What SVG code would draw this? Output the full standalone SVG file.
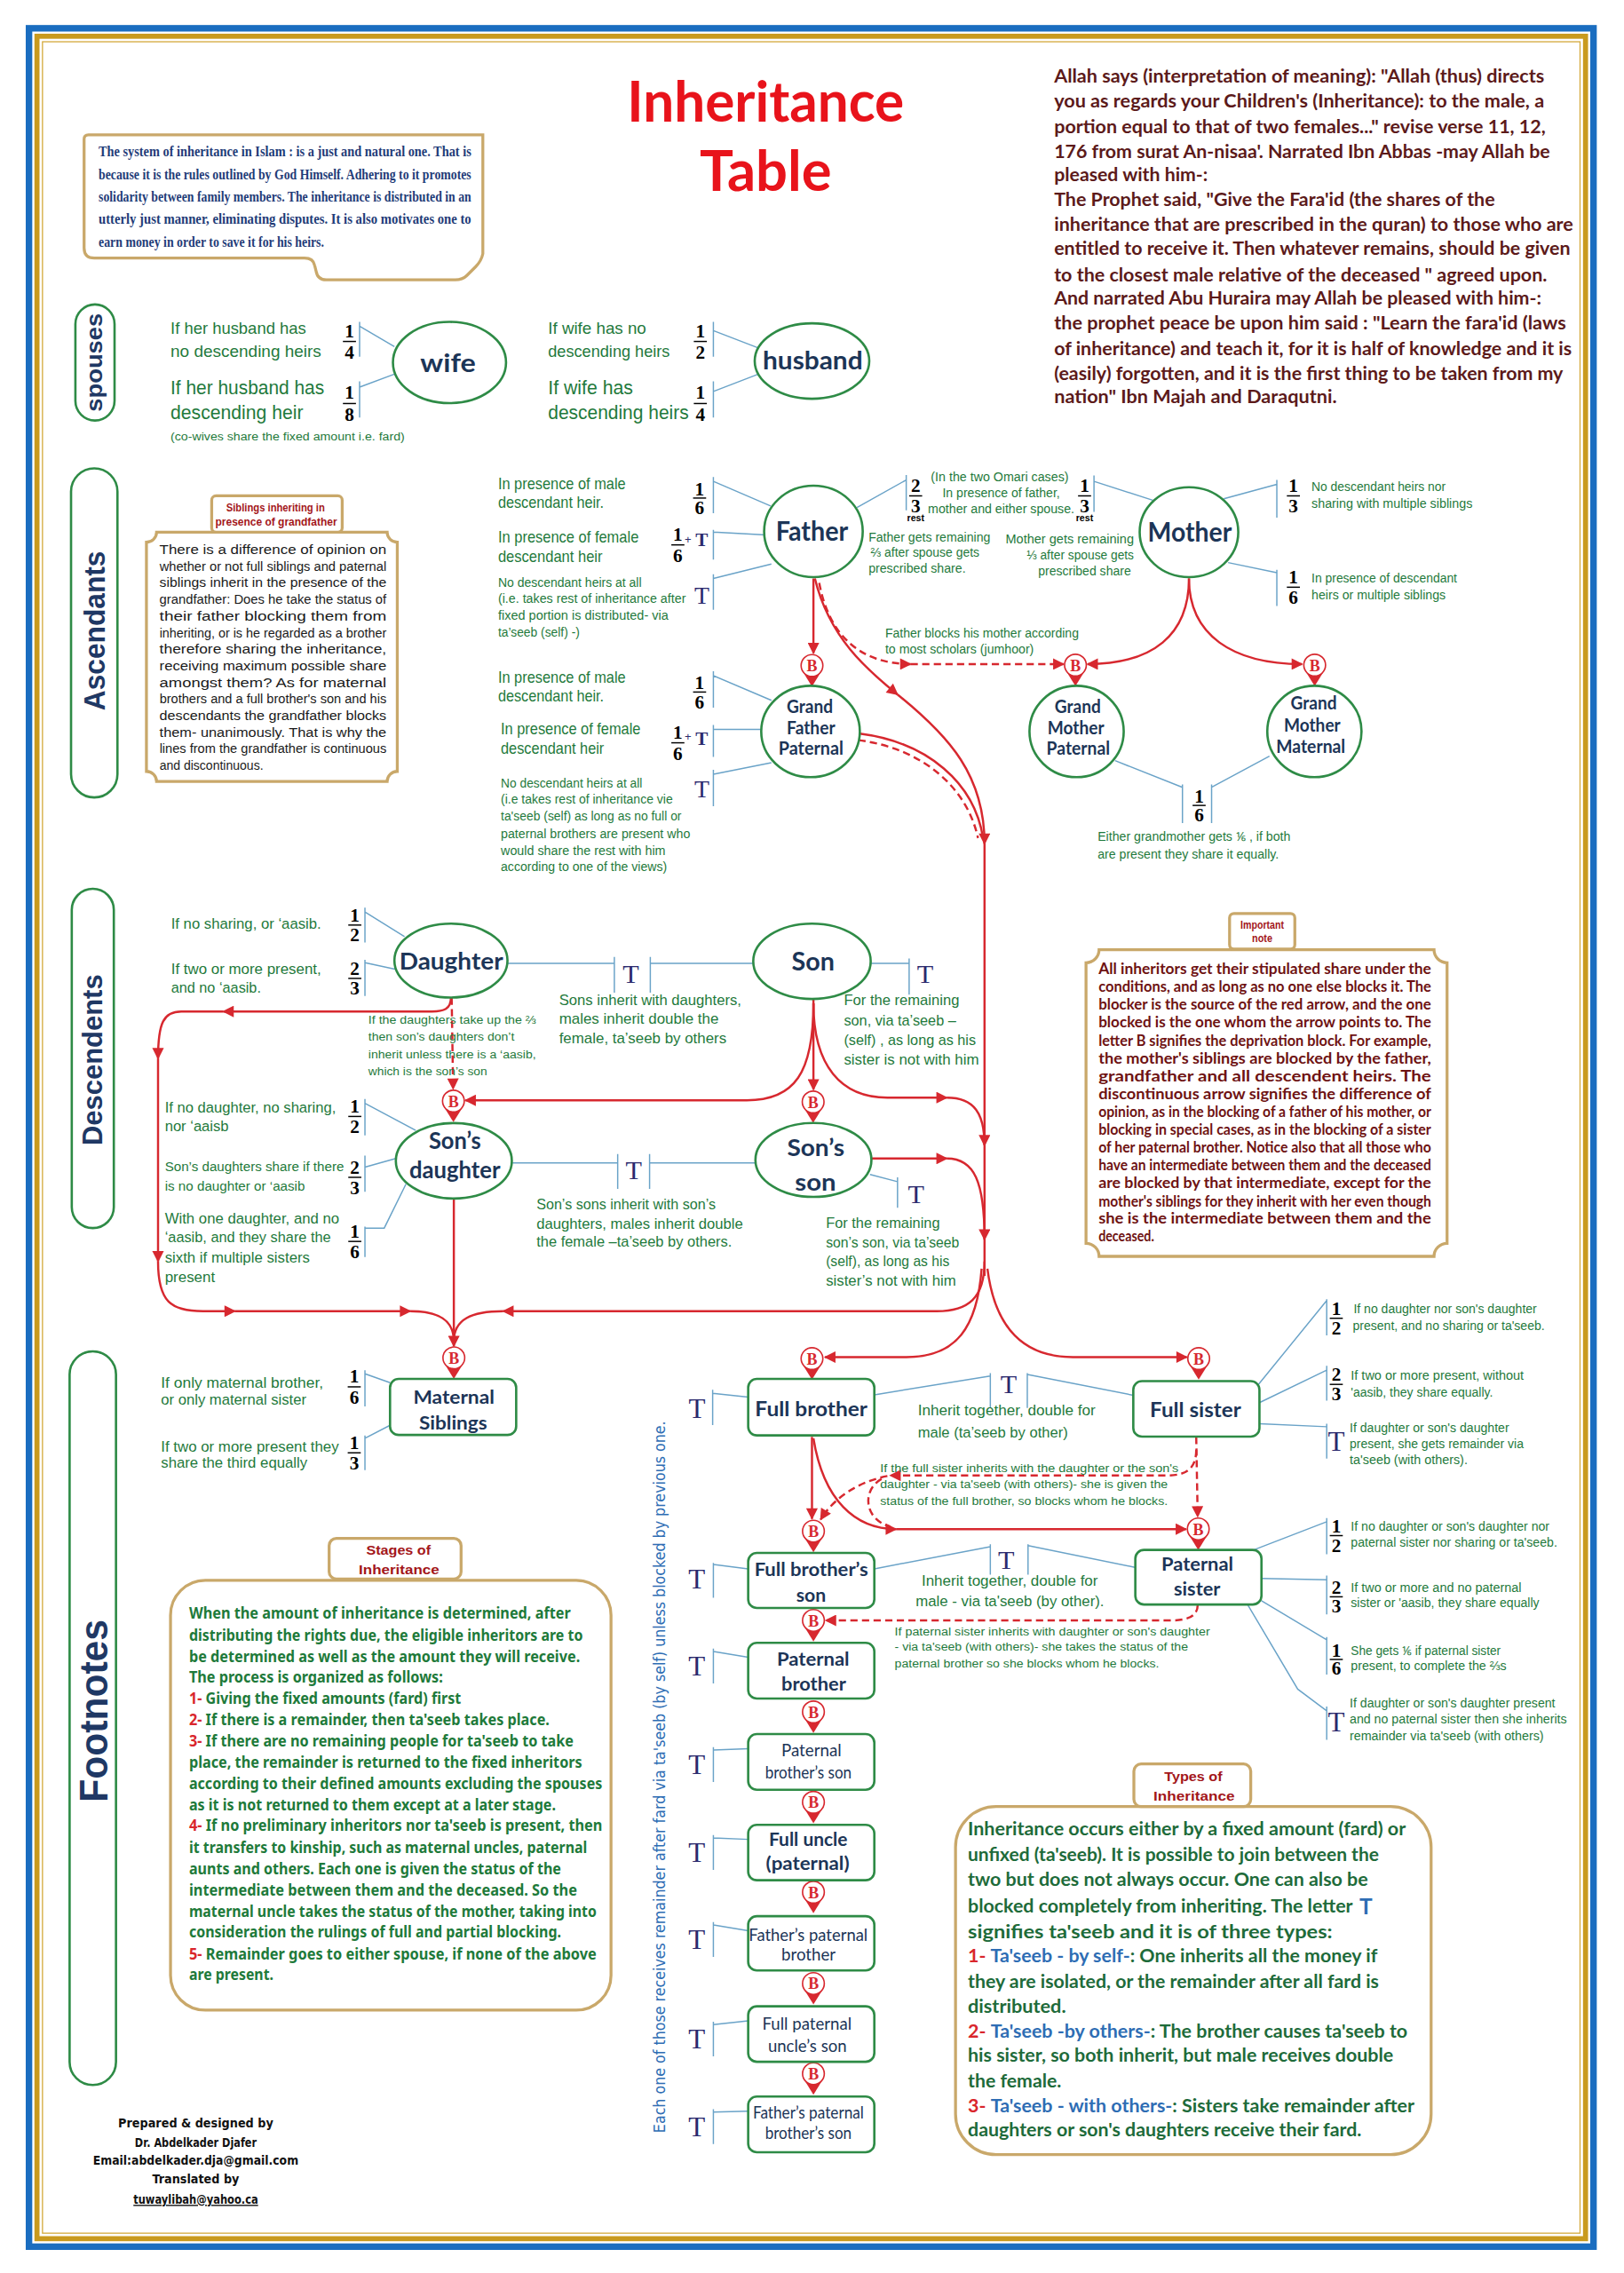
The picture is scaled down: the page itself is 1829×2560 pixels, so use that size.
<svg xmlns="http://www.w3.org/2000/svg" width="1829" height="2560" viewBox="0 0 1829 2560">
<defs>
<style>
.gn{font-family:'Liberation Sans Narrow','Liberation Sans',Arial,sans-serif;fill:#1f7a3c}
.nd{font-family:Lato,'Open Sans',sans-serif;font-weight:bold;fill:#1c3557;text-anchor:middle}
.ndr{font-family:Lato,'Open Sans',sans-serif;font-weight:normal;fill:#1c3557;text-anchor:middle}
.fr{font-family:'Liberation Serif',serif;font-weight:bold;fill:#000;text-anchor:middle;font-size:13px}
.tt{font-family:'Liberation Serif',serif;fill:#2b2a6e;text-anchor:middle}
.bl{stroke:#6aa3c8;stroke-width:0.9;fill:none}
.fb{stroke:#000;stroke-width:0.9}
.rd{stroke:#d7282f;stroke-width:1.5;fill:none}
.ra{stroke:#d7282f;stroke-width:1.5;fill:none;marker-end:url(#ah)}
.dsh{stroke-dasharray:5 3}
.el{fill:#fff;stroke:#2e8b46;stroke-width:1.6}
.bx{fill:#fff;stroke:#c9a86a;stroke-width:2}
.tab{font-family:'Liberation Sans',Arial,sans-serif;font-weight:bold;fill:#a3161a;text-anchor:middle}
.sec{font-family:'Liberation Sans',Arial,sans-serif;font-weight:bold;fill:#1f3864;text-anchor:middle}
.q{font-family:Lato,'Open Sans',sans-serif;font-weight:bold;fill:#5c1a1a;font-size:13px}
.nt{font-family:Lato,'Open Sans',sans-serif;font-weight:bold;fill:#6e1212;font-size:10px}
.st{font-family:'Noto Sans','Open Sans',sans-serif;font-weight:bold;fill:#1e7a3a;font-size:11px}
.ty{font-family:Lato,'Open Sans',sans-serif;font-weight:bold;fill:#1e6b3a;font-size:13px}
.red{fill:#d9262c}
.blu{fill:#2e6db4}
.cr{font-family:'DejaVu Sans',Verdana,sans-serif;font-weight:bold;fill:#111;font-size:8.5px;text-anchor:middle}
</style>
<marker id="ah" viewBox="0 0 10 10" refX="9" refY="5" markerWidth="9" markerHeight="8" markerUnits="userSpaceOnUse" orient="auto"><path d="M0,0 L10,5 L0,10 z" fill="#d7282f"/></marker>
<g id="bm"><path d="M-6.5 4 L6.5 4 L0 14.5 Z" fill="#d7282f"/><circle r="7.5" fill="#fff" stroke="#d7282f" stroke-width="1"/><text y="4" text-anchor="middle" font-family="'Liberation Serif',serif" font-weight="bold" font-size="11" fill="#d7282f">B</text></g>
</defs>
<rect width="1829" height="2560" fill="#fff"/>
<g transform="scale(1.633)">
<!-- frame -->
<g id="frame">
<rect x="20" y="19.5" width="1079" height="1530" fill="none" stroke="#1a6dc0" stroke-width="4.5"/>
<rect x="25.5" y="25" width="1068" height="1519" fill="none" stroke="#c99a1e" stroke-width="3.5"/>
<rect x="29.3" y="28.8" width="1060.4" height="1511.4" fill="none" stroke="#d4aa3c" stroke-width="0.8"/>
</g>

<!-- title -->
<g id="title" font-family="Lato,'Open Sans',sans-serif" font-weight="bold" fill="#e8131b" text-anchor="middle" font-size="39">
<text x="528" y="84" textLength="191" lengthAdjust="spacingAndGlyphs">Inheritance</text>
<text x="528" y="131.5" textLength="91" lengthAdjust="spacingAndGlyphs">Table</text>
</g>

<!-- intro box -->
<g id="intro">
<path class="bx" stroke-width="1.6" d="M61 93 L333 93 L333 175 Q332 180 328 184 L322 190 Q319 193 314 193 L225 193 Q219 193 218 187 L217 183 Q216 178 210 178 L65 178 Q58 178 58 171 L58 96 Q58 93 61 93 Z"/>
<g font-family="'Liberation Serif',serif" font-weight="bold" fill="#1f3c78" font-size="10.5">
<text x="68" y="108" textLength="257" lengthAdjust="spacingAndGlyphs">The system of inheritance in Islam : is a just and natural one. That is</text>
<text x="68" y="123.5" textLength="257" lengthAdjust="spacingAndGlyphs">because it is the rules outlined by God Himself. Adhering to it promotes</text>
<text x="68" y="139" textLength="257" lengthAdjust="spacingAndGlyphs">solidarity between family members. The inheritance is distributed in an</text>
<text x="68" y="154.5" textLength="257" lengthAdjust="spacingAndGlyphs">utterly just manner, eliminating disputes. It is also motivates one to</text>
<text x="68" y="170" textLength="155.5" lengthAdjust="spacingAndGlyphs">earn money in order to save it for his heirs.</text>
</g>
</g>

<!-- quote -->
<g id="quote">
<text class="q" x="727" y="57" textLength="338" lengthAdjust="spacingAndGlyphs">Allah says (interpretation of meaning): "Allah (thus) directs</text>
<text class="q" x="727" y="74" textLength="338" lengthAdjust="spacingAndGlyphs">you as regards your Children's (Inheritance): to the male, a</text>
<text class="q" x="727" y="92" textLength="339" lengthAdjust="spacingAndGlyphs">portion equal to that of two females..." revise verse 11, 12,</text>
<text class="q" x="727" y="109" textLength="342" lengthAdjust="spacingAndGlyphs">176 from surat An-nisaa'. Narrated Ibn Abbas -may Allah be</text>
<text class="q" x="727" y="125" textLength="106" lengthAdjust="spacingAndGlyphs">pleased with him-:</text>
<text class="q" x="727" y="142" textLength="304" lengthAdjust="spacingAndGlyphs">The Prophet said, "Give the Fara'id (the shares of the</text>
<text class="q" x="727" y="159" textLength="358" lengthAdjust="spacingAndGlyphs">inheritance that are prescribed in the quran) to those who are</text>
<text class="q" x="727" y="176" textLength="356" lengthAdjust="spacingAndGlyphs">entitled to receive it. Then whatever remains, should be given</text>
<text class="q" x="727" y="194" textLength="340" lengthAdjust="spacingAndGlyphs">to the closest male relative of the deceased " agreed upon.</text>
<text class="q" x="727" y="210" textLength="336" lengthAdjust="spacingAndGlyphs">And narrated Abu Huraira may Allah be pleased with him-:</text>
<text class="q" x="727" y="227" textLength="353" lengthAdjust="spacingAndGlyphs">the prophet peace be upon him said : "Learn the fara'id (laws</text>
<text class="q" x="727" y="245" textLength="357" lengthAdjust="spacingAndGlyphs">of inheritance) and teach it, for it is half of knowledge and it is</text>
<text class="q" x="727" y="262" textLength="351" lengthAdjust="spacingAndGlyphs">(easily) forgotten, and it is the first thing to be taken from my</text>
<text class="q" x="727" y="278" textLength="195" lengthAdjust="spacingAndGlyphs">nation" Ibn Majah and Daraqutni.</text>
</g>

<!-- section pills -->
<g id="sections" fill="#fff" stroke="#2e8b46" stroke-width="1.6">
<rect x="52" y="210" width="27" height="80" rx="13.5"/>
<rect x="49" y="323" width="32" height="227" rx="16"/>
<rect x="49.5" y="613" width="29" height="234" rx="14.5"/>
<rect x="48" y="932" width="32" height="506" rx="16"/>
</g>
<g id="section-labels">
<text class="sec" font-size="16" transform="translate(70.5,250) rotate(-90)" textLength="68" lengthAdjust="spacingAndGlyphs">spouses</text>
<text class="sec" font-size="20" transform="translate(72.5,435) rotate(-90)" textLength="110" lengthAdjust="spacingAndGlyphs">Ascendants</text>
<text class="sec" font-size="19" transform="translate(70.5,731) rotate(-90)" textLength="118" lengthAdjust="spacingAndGlyphs">Descendents</text>
<text class="sec" font-size="27" transform="translate(74,1180) rotate(-90)" textLength="126" lengthAdjust="spacingAndGlyphs">Footnotes</text>
</g>

<!-- connectors (blue share lines and red blocking arrows) -->
<g id="connectors">
<g class="bl">
<path d="M248 222V246M248 225L272 239M248 263V288M248 267L272 258"/>
<path d="M492 222V246M492 228L523 240M492 263V288M492 270L523 258"/>
<path d="M492 329V354M492 332L531.5 349M492 365.5V386M492 367L528.5 369M492 396V420.5M492 399L532 389"/>
<path d="M492 463V488M492 466L532 483M492 500V522M492 503L528.5 503M492 531V556M492 534L532 526"/>
<path d="M625 327.6V352M625 331L591 350M754.5 328V353M754.5 332L795 345"/>
<path d="M880.6 331V357M880.6 334L844 344M880.6 393V418M880.6 395L847 388"/>
<path d="M815.5 541V567.6M769 524.6L815.5 543M835.6 541V567.6M835.6 543L875.5 521.5"/>
<path d="M251.7 626V650M251.7 629L279 646M251.7 662V687M251.7 664L273 668.5"/>
<path d="M350 664.4H423.7M423.7 660V684.7M448.5 660V684.7M448.5 664.4H519.5"/>
<path d="M600 664.4H627M627 661V686"/>
<path d="M251.7 758V783M251.7 761L286.7 779.6M251.7 797V822M251.7 805L273 799M251.7 846V867M251.7 847H265L280 816.6"/>
<path d="M353 802H426M426 796V820M448 796V820M448 802H521"/>
<path d="M600 810L619 815M619 812V833"/>
<path d="M251.7 945V970M251.7 947.5L269 953.6M251.7 990V1014M251.7 992L269 983"/>
<path d="M491.5 958.5V982.8M491.5 961L516 963.6"/>
<path d="M603 962L683 949M683 947V971M708.5 947V971M708.5 948L781.6 962.3"/>
<path d="M915 896V921M915 897L867.8 955M915 942V966M915 945L868.6 967.4M915 982V1006M915 984L868.6 982"/>
<path d="M492 1078V1102M492 1079L516 1082"/>
<path d="M603 1082L683 1066.7M683 1065V1086M709 1065V1086M709 1066L782.7 1081"/>
<path d="M915 1047V1072M915 1049.5L864.6 1069M915 1086.6V1113.5M915 1089.6L870 1088.6M915 1129V1155M915 1131L870 1104M915 1177V1200M915 1180L895 1165L860.6 1107"/>
<path d="M492 1137V1161M492 1139L516 1143"/>
<path d="M492 1205V1229M492 1207L516 1206"/>
<path d="M492 1265.6V1289.6M492 1267.6L516 1268.6"/>
<path d="M492 1325.6V1349.6M492 1327.6L516 1331.6"/>
<path d="M492 1394.3V1418.3M492 1396.3L516 1393.7"/>
<path d="M492 1454.7V1478.7M492 1456.7L516 1456"/>
</g>

<g id="red-arrows">
<path class="ra" d="M561 399V450.5"/>
<path class="ra" d="M562 399C572 440 598 462 619 479"/>
<path class="ra" d="M619 479C655 508 679 535 679 582"/>
<path class="ra dsh" d="M565 402C572 440 595 458 628 458"/>
<path class="ra dsh" d="M628 458H733.5"/>
<path class="rd" d="M593 506C640 512 672 540 678 578"/>
<path class="rd dsh" d="M592 510.5C636 516 667 543 674.5 578"/>
<path class="ra" d="M820 399C820 438 795 458 750 458"/>
<path class="ra" d="M820 399C820 438 850 458 898 458"/>
<path class="rd" d="M679 575V880"/>
<path class="ra" d="M561 689V751.5"/>
<path class="ra" d="M561 692C561 740 548 758.9 515 758.9H321"/>
<path class="ra" d="M561 692C561 735 580 757 612 757H653"/>
<path class="ra" d="M653 757C672 757 679 768 679 790"/>
<path class="ra" d="M601 799H653"/>
<path class="ra" d="M653 799C672 799 679 815 679 855"/>
<path class="ra dsh" d="M311.5 688L312.5 751"/>
<path class="ra" d="M311 688C311 696 306 697.6 298 697.6H154"/>
<path class="ra" d="M154 697.6H125C113 697.6 109 705 109 730"/>
<path class="ra" d="M109 730V870"/>
<path class="ra" d="M109 870C109 898 118 904.3 140 904.3H162"/>
<path class="ra" d="M162 904.3H283"/>
<path class="rd" d="M283 904.3C302 904.3 313 910 313 925"/>
<path class="ra" d="M313 827V928.5"/>
<path class="ra" d="M679 870C679 895 668 904.3 646 904.3H347"/>
<path class="rd" d="M347 904.3C325 904.3 313 910 313 925"/>
<path class="ra" d="M677 875C674 915 660 936 625 936H569"/>
<path class="ra" d="M681 875C686 915 705 936 740 936H818.5"/>
<path class="ra" d="M560 991V1047.5"/>
<path class="ra" d="M561 992C568 1035 590 1054.6 618 1054.6"/>
<path class="ra" d="M618 1054.6H818"/>
<path class="ra dsh" d="M825 991L826 1046"/>
<path class="ra dsh" d="M825 1000C825 1013 818 1017.6 805 1017.6H614"/>
<path class="ra dsh" d="M612 1018C592 1022 575 1033 566 1048"/>
<path class="rd dsh" d="M608 1020C594 1028 596 1048 614 1053"/>
<path class="ra dsh" d="M826 1107C826 1114 820 1117.6 808 1117.6H569.5"/>
</g>
</g>

<!-- B markers -->
<g id="blocks">
<use href="#bm" x="560" y="459"/>
<use href="#bm" x="741.7" y="458.7"/>
<use href="#bm" x="906.7" y="458.7"/>
<use href="#bm" x="312.7" y="759.4"/>
<use href="#bm" x="560.8" y="760"/>
<use href="#bm" x="313" y="936.5"/>
<use href="#bm" x="560" y="937"/>
<use href="#bm" x="826.7" y="937"/>
<use href="#bm" x="561" y="1056"/>
<use href="#bm" x="826.4" y="1054.5"/>
<use href="#bm" x="561" y="1117.6"/>
<use href="#bm" x="561" y="1180.7"/>
<use href="#bm" x="561" y="1243"/>
<use href="#bm" x="561" y="1305"/>
<use href="#bm" x="561" y="1368"/>
<use href="#bm" x="561" y="1430.2"/>
</g>

<!-- fractions and T marks -->
<g id="fractions">
<text class="fr" x="241" y="232.4">1</text><line class="fb" x1="236.5" y1="235.5" x2="245.5" y2="235.5"/><text class="fr" x="241" y="247.4">4</text>
<text class="fr" x="241" y="275">1</text><line class="fb" x1="236.5" y1="278.3" x2="245.5" y2="278.3"/><text class="fr" x="241" y="290.4">8</text>
<text class="fr" x="483" y="232.4">1</text><line class="fb" x1="478.5" y1="235.5" x2="487.5" y2="235.5"/><text class="fr" x="483" y="247.4">2</text>
<text class="fr" x="483" y="275">1</text><line class="fb" x1="478.5" y1="278.3" x2="487.5" y2="278.3"/><text class="fr" x="483" y="290.4">4</text>
<text class="fr" x="482.5" y="341.4">1</text><line class="fb" x1="478" y1="343.5" x2="487" y2="343.5"/><text class="fr" x="482.5" y="354.4">6</text>
<text class="fr" x="467.5" y="373">1</text><line class="fb" x1="463" y1="375.8" x2="472" y2="375.8"/><text class="fr" x="467.5" y="387.4">6</text>
<text x="474.5" y="374.5" font-family="'Liberation Sans',sans-serif" font-size="8" fill="#2b2a6e" text-anchor="middle">+</text>
<text class="tt" x="484" y="376.5" font-size="13" font-weight="bold">T</text>
<text class="tt" x="484" y="416.5" font-size="17">T</text>
<text class="fr" x="482.5" y="475">1</text><line class="fb" x1="478" y1="477.3" x2="487" y2="477.3"/><text class="fr" x="482.5" y="488.4">6</text>
<text class="fr" x="467.5" y="509.4">1</text><line class="fb" x1="463" y1="512.3" x2="472" y2="512.3"/><text class="fr" x="467.5" y="524.1">6</text>
<text x="474.5" y="511" font-family="'Liberation Sans',sans-serif" font-size="8" fill="#2b2a6e" text-anchor="middle">+</text>
<text class="tt" x="484" y="513.5" font-size="13" font-weight="bold">T</text>
<text class="tt" x="484" y="550" font-size="17">T</text>
<text class="fr" x="631.5" y="339.4">2</text><line class="fb" x1="627" y1="342" x2="636" y2="342"/><text class="fr" x="631.5" y="353.4">3</text>
<text x="631.5" y="359.5" font-family="'Liberation Sans',sans-serif" font-weight="bold" font-size="6.5" text-anchor="middle">rest</text>
<text class="fr" x="748" y="339.4">1</text><line class="fb" x1="743.5" y1="342" x2="752.5" y2="342"/><text class="fr" x="748" y="353.4">3</text>
<text x="748" y="359.5" font-family="'Liberation Sans',sans-serif" font-weight="bold" font-size="6.5" text-anchor="middle">rest</text>
<text class="fr" x="892" y="339.4">1</text><line class="fb" x1="887.5" y1="342" x2="896.5" y2="342"/><text class="fr" x="892" y="353.4">3</text>
<text class="fr" x="892" y="402.4">1</text><line class="fb" x1="887.5" y1="405" x2="896.5" y2="405"/><text class="fr" x="892" y="416.4">6</text>
<text class="fr" x="827" y="553.4">1</text><line class="fb" x1="822.5" y1="555.5" x2="831.5" y2="555.5"/><text class="fr" x="827" y="566.4">6</text>
<text class="fr" x="244.7" y="635.4">1</text><line class="fb" x1="240.2" y1="638" x2="249.2" y2="638"/><text class="fr" x="244.7" y="649.4">2</text>
<text class="fr" x="244.7" y="672.4">2</text><line class="fb" x1="240.2" y1="674.8" x2="249.2" y2="674.8"/><text class="fr" x="244.7" y="686">3</text>
<text class="fr" x="244.7" y="767.4">1</text><line class="fb" x1="240.2" y1="770" x2="249.2" y2="770"/><text class="fr" x="244.7" y="781.4">2</text>
<text class="fr" x="244.7" y="809.4">2</text><line class="fb" x1="240.2" y1="812" x2="249.2" y2="812"/><text class="fr" x="244.7" y="823.4">3</text>
<text class="fr" x="244.7" y="853.4">1</text><line class="fb" x1="240.2" y1="856.2" x2="249.2" y2="856.2"/><text class="fr" x="244.7" y="867.8">6</text>
<text class="fr" x="244.3" y="953.4">1</text><line class="fb" x1="239.8" y1="956.5" x2="248.8" y2="956.5"/><text class="fr" x="244.3" y="968.4">6</text>
<text class="fr" x="244.3" y="999.4">1</text><line class="fb" x1="239.8" y1="1002" x2="248.8" y2="1002"/><text class="fr" x="244.3" y="1013.4">3</text>
<text class="fr" x="921.6" y="906.8">1</text><line class="fb" x1="917.1" y1="909.2" x2="926.1" y2="909.2"/><text class="fr" x="921.6" y="920.3">2</text>
<text class="fr" x="921.6" y="952.4">2</text><line class="fb" x1="917.1" y1="954.8" x2="926.1" y2="954.8"/><text class="fr" x="921.6" y="965.9">3</text>
<text class="tt" x="921.6" y="1000.8" font-size="19">T</text>
<text class="fr" x="921.6" y="1056.8">1</text><line class="fb" x1="917.1" y1="1059.1" x2="926.1" y2="1059.1"/><text class="fr" x="921.6" y="1070.2">2</text>
<text class="fr" x="921.6" y="1099.2">2</text><line class="fb" x1="917.1" y1="1101.3" x2="926.1" y2="1101.3"/><text class="fr" x="921.6" y="1112.1">3</text>
<text class="fr" x="921.6" y="1142.7">1</text><line class="fb" x1="917.1" y1="1144.5" x2="926.1" y2="1144.5"/><text class="fr" x="921.6" y="1155.1">6</text>
<text class="tt" x="921.6" y="1194.3" font-size="19">T</text>
<text class="tt" x="435" y="678" font-size="18.5">T</text>
<text class="tt" x="638" y="678" font-size="18.5">T</text>
<text class="tt" x="437" y="813" font-size="18.5">T</text>
<text class="tt" x="631.8" y="830" font-size="18.5">T</text>
<text class="tt" x="695.6" y="960.6" font-size="18.5">T</text>
<text class="tt" x="694" y="1082" font-size="18.5">T</text>
<text class="tt" x="480.7" y="978" font-size="19">T</text>
<text class="tt" x="480.6" y="1095.6" font-size="19">T</text>
<text class="tt" x="480.6" y="1155.6" font-size="19">T</text>
<text class="tt" x="480.6" y="1223.6" font-size="19">T</text>
<text class="tt" x="480.6" y="1284.2" font-size="19">T</text>
<text class="tt" x="480.6" y="1344.2" font-size="19">T</text>
<text class="tt" x="480.6" y="1412.9" font-size="19">T</text>
<text class="tt" x="480.6" y="1473.3" font-size="19">T</text>
</g>

<!-- nodes -->
<g id="node-wife"><ellipse class="el" cx="310" cy="250" rx="39" ry="28"/><text class="nd" x="309" y="256.5" font-size="18" textLength="38.3" lengthAdjust="spacingAndGlyphs">wife</text></g>
<g id="node-husband"><ellipse class="el" cx="560" cy="249" rx="39.5" ry="26"/><text class="nd" x="560.5" y="255" font-size="17" textLength="69" lengthAdjust="spacingAndGlyphs">husband</text></g>
<g id="node-father"><ellipse class="el" cx="561" cy="366.5" rx="34" ry="31.5"/><text class="nd" x="560" y="373" font-size="19" textLength="50" lengthAdjust="spacingAndGlyphs">Father</text></g>
<g id="node-mother"><ellipse class="el" cx="820" cy="367" rx="34" ry="31"/><text class="nd" x="820.5" y="373.5" font-size="19" textLength="58" lengthAdjust="spacingAndGlyphs">Mother</text></g>
<g id="node-grandfather"><ellipse class="el" cx="559" cy="504.5" rx="34" ry="31.5"/>
<text class="nd" x="558.5" y="491.5" font-size="12.5" textLength="31.8" lengthAdjust="spacingAndGlyphs">Grand</text>
<text class="nd" x="559.3" y="506.5" font-size="12.5" textLength="33.4" lengthAdjust="spacingAndGlyphs">Father</text>
<text class="nd" x="559.3" y="520.5" font-size="12.5" textLength="44.7" lengthAdjust="spacingAndGlyphs">Paternal</text></g>
<g id="node-gm-paternal"><ellipse class="el" cx="742.5" cy="504.5" rx="32.5" ry="31.5"/>
<text class="nd" x="743.3" y="491.5" font-size="12.5" textLength="31.8" lengthAdjust="spacingAndGlyphs">Grand</text>
<text class="nd" x="742" y="506.5" font-size="12.5" textLength="39" lengthAdjust="spacingAndGlyphs">Mother</text>
<text class="nd" x="743.6" y="520.5" font-size="12.5" textLength="43.7" lengthAdjust="spacingAndGlyphs">Paternal</text></g>
<g id="node-gm-maternal"><ellipse class="el" cx="906.5" cy="504.5" rx="32.5" ry="31.5"/>
<text class="nd" x="906" y="489.5" font-size="12.5" textLength="31.8" lengthAdjust="spacingAndGlyphs">Grand</text>
<text class="nd" x="905" y="504.5" font-size="12.5" textLength="39" lengthAdjust="spacingAndGlyphs">Mother</text>
<text class="nd" x="904" y="519.5" font-size="12.5" textLength="47.7" lengthAdjust="spacingAndGlyphs">Maternal</text></g>
<g id="node-daughter"><ellipse class="el" cx="311" cy="662.5" rx="39" ry="25.5"/><text class="nd" x="311.2" y="668.5" font-size="16.5" textLength="71.5" lengthAdjust="spacingAndGlyphs">Daughter</text></g>
<g id="node-son"><ellipse class="el" cx="560" cy="663" rx="40.5" ry="26"/><text class="nd" x="560.8" y="669.5" font-size="18" textLength="29.6" lengthAdjust="spacingAndGlyphs">Son</text></g>
<g id="node-sons-daughter"><ellipse class="el" cx="313" cy="800.6" rx="40" ry="26"/>
<text class="nd" x="313.7" y="792.5" font-size="16" textLength="36" lengthAdjust="spacingAndGlyphs">Son’s</text>
<text class="nd" x="313.7" y="812.5" font-size="16" textLength="62.8" lengthAdjust="spacingAndGlyphs">daughter</text></g>
<g id="node-sons-son"><ellipse class="el" cx="561" cy="800" rx="40" ry="25.5"/>
<text class="nd" x="562.6" y="797.5" font-size="16" textLength="39.6" lengthAdjust="spacingAndGlyphs">Son’s</text>
<text class="nd" x="562.4" y="821" font-size="16" textLength="28.3" lengthAdjust="spacingAndGlyphs">son</text></g>
<g id="node-maternal-siblings"><rect class="el" x="269" y="951" width="87" height="38.7" rx="6"/>
<text class="nd" x="313" y="968" font-size="13" textLength="56" lengthAdjust="spacingAndGlyphs">Maternal</text>
<text class="nd" x="312.5" y="986" font-size="13" textLength="47" lengthAdjust="spacingAndGlyphs">Siblings</text></g>
<g id="node-full-brother"><rect class="el" x="516" y="951" width="87" height="39" rx="6"/>
<text class="nd" x="559.5" y="976.5" font-size="14" textLength="77.5" lengthAdjust="spacingAndGlyphs">Full brother</text></g>
<g id="node-full-sister"><rect class="el" x="781.6" y="952.5" width="87" height="38.3" rx="6"/>
<text class="nd" x="824.5" y="977.5" font-size="14" textLength="62.8" lengthAdjust="spacingAndGlyphs">Full sister</text></g>
<g id="node-full-brothers-son"><rect class="el" x="516" y="1071" width="87" height="38" rx="6"/>
<text class="nd" x="559.5" y="1087" font-size="12.5" textLength="78.4" lengthAdjust="spacingAndGlyphs">Full brother’s</text>
<text class="nd" x="559.4" y="1104.5" font-size="12.5" textLength="20.5" lengthAdjust="spacingAndGlyphs">son</text></g>
<g id="node-paternal-sister"><rect class="el" x="783" y="1069" width="87" height="37.6" rx="6"/>
<text class="nd" x="825.8" y="1083" font-size="13" textLength="49.6" lengthAdjust="spacingAndGlyphs">Paternal</text>
<text class="nd" x="825.6" y="1100.5" font-size="13" textLength="32" lengthAdjust="spacingAndGlyphs">sister</text></g>
<g id="node-paternal-brother"><rect class="el" x="516" y="1133" width="87" height="38.5" rx="6"/>
<text class="nd" x="560.8" y="1148.8" font-size="13" textLength="50" lengthAdjust="spacingAndGlyphs">Paternal</text>
<text class="nd" x="561.2" y="1166" font-size="13" textLength="44.5" lengthAdjust="spacingAndGlyphs">brother</text></g>
<g id="node-paternal-brothers-son"><rect class="el" x="516" y="1196" width="87" height="38.4" rx="6"/>
<text class="ndr" x="559.6" y="1211" font-size="12" textLength="41.5" lengthAdjust="spacingAndGlyphs">Paternal</text>
<text class="ndr" x="557.5" y="1226.7" font-size="12" textLength="59.7" lengthAdjust="spacingAndGlyphs">brother’s son</text></g>
<g id="node-full-uncle"><rect class="el" x="516" y="1258.6" width="87" height="38.2" rx="6"/>
<text class="nd" x="557.4" y="1273" font-size="13" textLength="54.2" lengthAdjust="spacingAndGlyphs">Full uncle</text>
<text class="nd" x="557" y="1289.5" font-size="13" textLength="57.5" lengthAdjust="spacingAndGlyphs">(paternal)</text></g>
<g id="node-fathers-paternal-brother"><rect class="el" x="516" y="1321.6" width="87" height="37.4" rx="6"/>
<text class="ndr" x="557.4" y="1338.4" font-size="11.5" textLength="82" lengthAdjust="spacingAndGlyphs">Father’s paternal</text>
<text class="ndr" x="557.6" y="1352.4" font-size="11.5" textLength="37.4" lengthAdjust="spacingAndGlyphs">brother</text></g>
<g id="node-full-paternal-uncles-son"><rect class="el" x="516" y="1383.7" width="87" height="38.3" rx="6"/>
<text class="ndr" x="556.5" y="1399.7" font-size="12" textLength="61.6" lengthAdjust="spacingAndGlyphs">Full paternal</text>
<text class="ndr" x="556.8" y="1415.3" font-size="12" textLength="54.3" lengthAdjust="spacingAndGlyphs">uncle’s son</text></g>
<g id="node-fathers-paternal-brothers-son"><rect class="el" x="516" y="1446" width="87" height="38.4" rx="6"/>
<text class="ndr" x="557.5" y="1461" font-size="11.5" textLength="76.5" lengthAdjust="spacingAndGlyphs">Father’s paternal</text>
<text class="ndr" x="557.5" y="1475" font-size="11.5" textLength="59.7" lengthAdjust="spacingAndGlyphs">brother’s son</text></g>

<!-- green condition labels -->
<g id="labels">
<text class="gn" font-size="11" x="117.6" y="230.5" textLength="93.5" lengthAdjust="spacingAndGlyphs">If her husband has</text>
<text class="gn" font-size="11" x="117.6" y="246" textLength="104" lengthAdjust="spacingAndGlyphs">no  descending heirs</text>
<text class="gn" font-size="13" x="117.6" y="272" textLength="106" lengthAdjust="spacingAndGlyphs">If her husband has</text>
<text class="gn" font-size="13" x="117.6" y="289" textLength="91.5" lengthAdjust="spacingAndGlyphs">descending heir</text>
<text class="gn" font-size="8" x="117.6" y="304" textLength="161.5" lengthAdjust="spacingAndGlyphs">(co-wives share the  fixed amount i.e. fard)</text>
<text class="gn" font-size="11" x="378" y="230.5" textLength="67.7" lengthAdjust="spacingAndGlyphs">If wife has no</text>
<text class="gn" font-size="11" x="378" y="246" textLength="84" lengthAdjust="spacingAndGlyphs">descending heirs</text>
<text class="gn" font-size="13" x="378" y="272" textLength="58.6" lengthAdjust="spacingAndGlyphs">If wife has</text>
<text class="gn" font-size="13" x="378" y="289" textLength="97" lengthAdjust="spacingAndGlyphs">descending heirs</text>

<text class="gn" font-size="11" x="343.5" y="337.5" textLength="88" lengthAdjust="spacingAndGlyphs">In presence of male</text>
<text class="gn" font-size="11" x="343.5" y="350.5" textLength="73" lengthAdjust="spacingAndGlyphs">descendant heir.</text>
<text class="gn" font-size="11" x="343.5" y="374" textLength="97" lengthAdjust="spacingAndGlyphs">In presence of female</text>
<text class="gn" font-size="11" x="343.5" y="387.5" textLength="72" lengthAdjust="spacingAndGlyphs">descendant heir</text>
<text class="gn" font-size="8.5" x="343.5" y="404.5" textLength="99" lengthAdjust="spacingAndGlyphs">No descendant heirs at all</text>
<text class="gn" font-size="8.5" x="343.5" y="416" textLength="129.5" lengthAdjust="spacingAndGlyphs">(i.e. takes rest of inheritance after</text>
<text class="gn" font-size="8.5" x="343.5" y="427.5" textLength="117.5" lengthAdjust="spacingAndGlyphs">fixed portion is distributed- via</text>
<text class="gn" font-size="8.5" x="343.5" y="439" textLength="56.3" lengthAdjust="spacingAndGlyphs">ta’seeb (self) -)</text>

<text class="gn" font-size="11" x="343.5" y="471" textLength="88" lengthAdjust="spacingAndGlyphs">In presence of male</text>
<text class="gn" font-size="11" x="343.5" y="484" textLength="73" lengthAdjust="spacingAndGlyphs">descendant heir.</text>
<text class="gn" font-size="11" x="345.4" y="506.5" textLength="96.4" lengthAdjust="spacingAndGlyphs">In presence of female</text>
<text class="gn" font-size="11" x="345.4" y="520" textLength="71.2" lengthAdjust="spacingAndGlyphs">descendant heir</text>
<text class="gn" font-size="8.5" x="345.4" y="543" textLength="97.6" lengthAdjust="spacingAndGlyphs">No descendant heirs at all</text>
<text class="gn" font-size="8.5" x="345.4" y="554.5" textLength="118.6" lengthAdjust="spacingAndGlyphs">(i.e takes rest of inheritance vie</text>
<text class="gn" font-size="8.5" x="345.4" y="566" textLength="124.6" lengthAdjust="spacingAndGlyphs">ta'seeb (self) as long as no full or</text>
<text class="gn" font-size="8.5" x="345.4" y="578" textLength="130.6" lengthAdjust="spacingAndGlyphs">paternal brothers are present who</text>
<text class="gn" font-size="8.5" x="345.4" y="589.5" textLength="113.6" lengthAdjust="spacingAndGlyphs">would share the rest with him</text>
<text class="gn" font-size="8.5" x="345.4" y="600.6" textLength="114.6" lengthAdjust="spacingAndGlyphs">according to one of the views)</text>

<text class="gn" font-size="8.5" x="642" y="331.6" textLength="95" lengthAdjust="spacingAndGlyphs">(In the two Omari cases)</text>
<text class="gn" font-size="8.5" x="650" y="343" textLength="81" lengthAdjust="spacingAndGlyphs">In presence of father,</text>
<text class="gn" font-size="8.5" x="640" y="354" textLength="101" lengthAdjust="spacingAndGlyphs">mother and either spouse.</text>
<text class="gn" font-size="8.5" x="599" y="373.5" textLength="84" lengthAdjust="spacingAndGlyphs">Father gets remaining</text>
<text class="gn" font-size="8.5" x="600.5" y="384" textLength="75" lengthAdjust="spacingAndGlyphs">⅔ after spouse gets</text>
<text class="gn" font-size="8.5" x="599" y="395" textLength="67" lengthAdjust="spacingAndGlyphs">prescribed share.</text>
<text class="gn" font-size="8.5" x="693.5" y="375" textLength="88.5" lengthAdjust="spacingAndGlyphs">Mother gets remaining</text>
<text class="gn" font-size="8.5" x="708" y="386" textLength="74" lengthAdjust="spacingAndGlyphs">⅓ after spouse gets</text>
<text class="gn" font-size="8.5" x="716" y="397" textLength="64" lengthAdjust="spacingAndGlyphs">prescribed share</text>
<text class="gn" font-size="8.5" x="904.5" y="338.7" textLength="92.5" lengthAdjust="spacingAndGlyphs">No descendant  heirs nor</text>
<text class="gn" font-size="8.5" x="904.5" y="350" textLength="111" lengthAdjust="spacingAndGlyphs">sharing with multiple siblings</text>
<text class="gn" font-size="8.5" x="904.5" y="402" textLength="100.4" lengthAdjust="spacingAndGlyphs">In presence of descendant</text>
<text class="gn" font-size="8.5" x="904.5" y="413.5" textLength="92.5" lengthAdjust="spacingAndGlyphs">heirs or multiple siblings</text>
<text class="gn" font-size="8.5" x="610.5" y="439.6" textLength="133.5" lengthAdjust="spacingAndGlyphs">Father blocks his mother according</text>
<text class="gn" font-size="8.5" x="610.5" y="450.6" textLength="102.5" lengthAdjust="spacingAndGlyphs">to most scholars (jumhoor)</text>
<text class="gn" font-size="8.5" x="757" y="580" textLength="133" lengthAdjust="spacingAndGlyphs">Either grandmother gets ⅙ , if both</text>
<text class="gn" font-size="8.5" x="757" y="592" textLength="125" lengthAdjust="spacingAndGlyphs">are present they share it equally.</text>

<text class="gn" font-size="10.5" x="118" y="640.5" textLength="103.5" lengthAdjust="spacingAndGlyphs">If no sharing,  or ‘aasib.</text>
<text class="gn" font-size="10.5" x="118" y="672" textLength="103.5" lengthAdjust="spacingAndGlyphs">If two or more present,</text>
<text class="gn" font-size="10.5" x="118" y="684.5" textLength="62" lengthAdjust="spacingAndGlyphs">and no ‘aasib.</text>
<text class="gn" font-size="10" x="385.6" y="693" textLength="125.7" lengthAdjust="spacingAndGlyphs">Sons inherit with daughters,</text>
<text class="gn" font-size="10" x="385.6" y="706" textLength="110" lengthAdjust="spacingAndGlyphs">males inherit double the</text>
<text class="gn" font-size="10" x="385.6" y="719.5" textLength="115.4" lengthAdjust="spacingAndGlyphs">female,  ta’seeb by others</text>
<text class="gn" font-size="10" x="582" y="693.5" textLength="79.6" lengthAdjust="spacingAndGlyphs">For the remaining</text>
<text class="gn" font-size="10" x="582" y="707" textLength="77.4" lengthAdjust="spacingAndGlyphs">son, via ta’seeb –</text>
<text class="gn" font-size="10" x="582" y="721" textLength="91" lengthAdjust="spacingAndGlyphs">(self) ,  as long as his</text>
<text class="gn" font-size="10" x="582" y="734" textLength="93.2" lengthAdjust="spacingAndGlyphs">sister is not with him</text>
<text class="gn" font-size="8" x="254" y="706" textLength="115.7" lengthAdjust="spacingAndGlyphs">If the daughters take up the ⅔</text>
<text class="gn" font-size="8" x="254" y="718" textLength="100.8" lengthAdjust="spacingAndGlyphs">then son’s daughters don’t</text>
<text class="gn" font-size="8" x="254" y="730" textLength="115.7" lengthAdjust="spacingAndGlyphs">inherit unless there is a ‘aasib,</text>
<text class="gn" font-size="8" x="254" y="741.5" textLength="82" lengthAdjust="spacingAndGlyphs">which is the son’s son</text>
<text class="gn" font-size="10.5" x="113.7" y="767" textLength="118" lengthAdjust="spacingAndGlyphs">If no daughter, no sharing,</text>
<text class="gn" font-size="10.5" x="113.7" y="780" textLength="44" lengthAdjust="spacingAndGlyphs">nor ‘aaisb</text>
<text class="gn" font-size="9.5" x="113.7" y="808" textLength="123.5" lengthAdjust="spacingAndGlyphs">Son’s daughters share if there</text>
<text class="gn" font-size="9.5" x="113.7" y="821" textLength="96.6" lengthAdjust="spacingAndGlyphs">is no daughter or ‘aasib</text>
<text class="gn" font-size="10.5" x="113.7" y="844" textLength="120.3" lengthAdjust="spacingAndGlyphs">With one daughter, and no</text>
<text class="gn" font-size="10.5" x="113.7" y="857" textLength="114.5" lengthAdjust="spacingAndGlyphs">‘aasib, and they share the</text>
<text class="gn" font-size="10.5" x="113.7" y="870.5" textLength="100" lengthAdjust="spacingAndGlyphs">sixth if multiple sisters</text>
<text class="gn" font-size="10.5" x="113.7" y="884" textLength="34.6" lengthAdjust="spacingAndGlyphs">present</text>
<text class="gn" font-size="10" x="370" y="834" textLength="123.6" lengthAdjust="spacingAndGlyphs">Son’s sons inherit with son’s</text>
<text class="gn" font-size="10" x="370" y="847.5" textLength="142.4" lengthAdjust="spacingAndGlyphs">daughters, males inherit double</text>
<text class="gn" font-size="10" x="370" y="860" textLength="134.8" lengthAdjust="spacingAndGlyphs">the female –ta’seeb by others.</text>
<text class="gn" font-size="10" x="569.6" y="847" textLength="78.6" lengthAdjust="spacingAndGlyphs">For the remaining</text>
<text class="gn" font-size="10" x="569.6" y="860.5" textLength="92" lengthAdjust="spacingAndGlyphs">son’s son, via ta’seeb</text>
<text class="gn" font-size="10" x="569.6" y="873.5" textLength="85.2" lengthAdjust="spacingAndGlyphs">(self), as long as his</text>
<text class="gn" font-size="10" x="569.6" y="887" textLength="89.8" lengthAdjust="spacingAndGlyphs">sister’s not with him</text>

<text class="gn" font-size="10.5" x="111" y="957" textLength="112" lengthAdjust="spacingAndGlyphs">If only maternal brother,</text>
<text class="gn" font-size="10.5" x="111" y="968.5" textLength="100.3" lengthAdjust="spacingAndGlyphs">or only maternal sister</text>
<text class="gn" font-size="10.5" x="111" y="1001.5" textLength="122.7" lengthAdjust="spacingAndGlyphs">If two or more present they</text>
<text class="gn" font-size="10.5" x="111" y="1012.5" textLength="101" lengthAdjust="spacingAndGlyphs">share the third equally</text>

<text class="gn" font-size="10.5" x="633" y="976" textLength="122.5" lengthAdjust="spacingAndGlyphs">Inherit together, double for</text>
<text class="gn" font-size="10.5" x="633" y="991.5" textLength="103.5" lengthAdjust="spacingAndGlyphs">male (ta’seeb by other)</text>
<text class="gn" font-size="8.5" x="933.5" y="905.7" textLength="126.4" lengthAdjust="spacingAndGlyphs">If no daughter nor son's daughter</text>
<text class="gn" font-size="8.5" x="933" y="917.3" textLength="132.3" lengthAdjust="spacingAndGlyphs">present, and no sharing or ta'seeb.</text>
<text class="gn" font-size="8.5" x="931.6" y="951.5" textLength="119.3" lengthAdjust="spacingAndGlyphs">If two or more present, without</text>
<text class="gn" font-size="8.5" x="931.6" y="963" textLength="98" lengthAdjust="spacingAndGlyphs">'aasib, they share equally.</text>
<text class="gn" font-size="8.5" x="930.8" y="987.6" textLength="110" lengthAdjust="spacingAndGlyphs">If daughter or son's daughter</text>
<text class="gn" font-size="8.5" x="930.8" y="998.5" textLength="120" lengthAdjust="spacingAndGlyphs">present, she gets remainder via</text>
<text class="gn" font-size="8.5" x="930.8" y="1010" textLength="81.4" lengthAdjust="spacingAndGlyphs">ta'seeb (with others).</text>
<text class="gn" font-size="7.5" x="607" y="1015.6" textLength="205.8" lengthAdjust="spacingAndGlyphs">If the full sister inherits with the daughter or the son's</text>
<text class="gn" font-size="7.5" x="607" y="1026.6" textLength="198.4" lengthAdjust="spacingAndGlyphs">daughter - via ta'seeb (with others)- she is given the</text>
<text class="gn" font-size="7.5" x="607" y="1038" textLength="198.4" lengthAdjust="spacingAndGlyphs">status of the full brother, so blocks whom he blocks.</text>
<text class="gn" font-size="10.5" x="635.6" y="1093.5" textLength="121.6" lengthAdjust="spacingAndGlyphs">Inherit together, double for</text>
<text class="gn" font-size="10.5" x="631.5" y="1107.5" textLength="130" lengthAdjust="spacingAndGlyphs">male  - via ta'seeb (by other).</text>
<text class="gn" font-size="8.5" x="931.6" y="1055.6" textLength="137" lengthAdjust="spacingAndGlyphs">If no daughter or son's daughter nor</text>
<text class="gn" font-size="8.5" x="931.6" y="1066.6" textLength="142.4" lengthAdjust="spacingAndGlyphs">paternal sister nor sharing or ta'seeb.</text>
<text class="gn" font-size="8.5" x="931.6" y="1097.8" textLength="117.7" lengthAdjust="spacingAndGlyphs">If two or more and no paternal</text>
<text class="gn" font-size="8.5" x="931.6" y="1108.5" textLength="130" lengthAdjust="spacingAndGlyphs">sister or 'aasib, they share equally</text>
<text class="gn" font-size="8.5" x="931.6" y="1141.3" textLength="103.4" lengthAdjust="spacingAndGlyphs">She gets ⅙ if paternal sister</text>
<text class="gn" font-size="8.5" x="931.6" y="1152" textLength="107.4" lengthAdjust="spacingAndGlyphs">present, to complete the ⅔s</text>
<text class="gn" font-size="8.5" x="930.8" y="1177.6" textLength="141.8" lengthAdjust="spacingAndGlyphs">If daughter or son's daughter present</text>
<text class="gn" font-size="8.5" x="930.8" y="1188.5" textLength="149.8" lengthAdjust="spacingAndGlyphs">and no paternal sister then she inherits</text>
<text class="gn" font-size="8.5" x="930.8" y="1200" textLength="133.9" lengthAdjust="spacingAndGlyphs">remainder via ta'seeb (with others)</text>
<text class="gn" font-size="7.5" x="617" y="1127.8" textLength="217.5" lengthAdjust="spacingAndGlyphs">If paternal sister inherits with daughter or son's daughter</text>
<text class="gn" font-size="7.5" x="617" y="1138.6" textLength="202.4" lengthAdjust="spacingAndGlyphs">- via ta'seeb (with others)- she takes the status of the</text>
<text class="gn" font-size="7.5" x="617" y="1150.3" textLength="182.4" lengthAdjust="spacingAndGlyphs">paternal brother so she blocks whom he blocks.</text>
</g>

<!-- vertical note -->
<text id="vertical-note" transform="translate(458.5,1225.5) rotate(-90)" text-anchor="middle" font-family="'DejaVu Sans',Verdana,sans-serif" font-size="11" fill="#2e6db4" textLength="491" lengthAdjust="spacingAndGlyphs">Each one of those receives remainder after fard via ta'seeb (by self) unless blocked by previous one.</text>

<!-- siblings in presence of grandfather box -->
<g id="siblings-note">
<path class="bx" d="M108 367 L267 367 A7 7 0 0 0 274 374 L274 532 A7 7 0 0 0 267 539 L108 539 A7 7 0 0 0 101 532 L101 374 A7 7 0 0 0 108 367 Z"/>
<rect class="bx" x="146" y="342" width="90" height="25" rx="3"/>
<text class="tab" x="190" y="352.5" font-size="7.5" textLength="68" lengthAdjust="spacingAndGlyphs">Siblings inheriting in</text>
<text class="tab" x="190.5" y="362.5" font-size="7.5" textLength="84" lengthAdjust="spacingAndGlyphs">presence of grandfather</text>
<g font-family="'Liberation Sans Narrow','Liberation Sans',sans-serif" font-size="9" fill="#1a1a1a">
<text x="110" y="382" textLength="156.5" lengthAdjust="spacingAndGlyphs">There is a difference of opinion on</text>
<text x="110" y="393.5" textLength="156.5" lengthAdjust="spacingAndGlyphs">whether or not full siblings and paternal</text>
<text x="110" y="405" textLength="156.5" lengthAdjust="spacingAndGlyphs">siblings  inherit in the presence of the</text>
<text x="110" y="416.5" textLength="156.5" lengthAdjust="spacingAndGlyphs">grandfather: Does he take the status of</text>
<text x="110" y="428" textLength="156.5" lengthAdjust="spacingAndGlyphs">their  father  blocking  them  from</text>
<text x="110" y="439.6" textLength="156.5" lengthAdjust="spacingAndGlyphs">inheriting, or is he regarded as a brother</text>
<text x="110" y="451" textLength="156.5" lengthAdjust="spacingAndGlyphs">therefore  sharing  the  inheritance,</text>
<text x="110" y="462.3" textLength="156.5" lengthAdjust="spacingAndGlyphs">receiving  maximum  possible  share</text>
<text x="110" y="473.8" textLength="156.5" lengthAdjust="spacingAndGlyphs">amongst  them?  As  for  maternal</text>
<text x="110" y="485.2" textLength="156.5" lengthAdjust="spacingAndGlyphs">brothers and a full brother's son and his</text>
<text x="110" y="496.6" textLength="156.5" lengthAdjust="spacingAndGlyphs">descendants  the  grandfather  blocks</text>
<text x="110" y="508" textLength="156.5" lengthAdjust="spacingAndGlyphs">them-  unanimously.  That  is  why  the</text>
<text x="110" y="519.4" textLength="156.5" lengthAdjust="spacingAndGlyphs">lines from the grandfather is continuous</text>
<text x="110" y="530.8" textLength="71.6" lengthAdjust="spacingAndGlyphs">and discontinuous.</text>
</g>
</g>

<!-- important note -->
<g id="important-note">
<path class="bx" d="M758 655 L989 655 A9 9 0 0 0 998 664 L998 857.5 A9 9 0 0 0 989 866.5 L758 866.5 A9 9 0 0 0 749 857.5 L749 664 A9 9 0 0 0 758 655 Z"/>
<rect class="bx" x="848" y="630" width="45" height="24.6" rx="3"/>
<text class="tab" x="870.5" y="640.5" font-size="7.5" textLength="30" lengthAdjust="spacingAndGlyphs">Important</text>
<text class="tab" x="870.5" y="650" font-size="7.5" textLength="14" lengthAdjust="spacingAndGlyphs">note</text>
<text class="nt" x="757.6" y="671.5" textLength="229.4" lengthAdjust="spacingAndGlyphs">All inheritors get their stipulated share under the</text>
<text class="nt" x="757.6" y="684" textLength="229.4" lengthAdjust="spacingAndGlyphs">conditions, and as long as no one else blocks it. The</text>
<text class="nt" x="757.6" y="696.5" textLength="229.4" lengthAdjust="spacingAndGlyphs">blocker is the source of the red arrow, and the one</text>
<text class="nt" x="757.6" y="708.8" textLength="229.4" lengthAdjust="spacingAndGlyphs">blocked is the one whom the arrow points to. The</text>
<text class="nt" x="757.6" y="721.5" textLength="229.4" lengthAdjust="spacingAndGlyphs">letter B signifies the deprivation block. For example,</text>
<text class="nt" x="757.6" y="733.5" textLength="229.4" lengthAdjust="spacingAndGlyphs">the mother's siblings are blocked by the father,</text>
<text class="nt" x="757.6" y="746" textLength="229.4" lengthAdjust="spacingAndGlyphs">grandfather   and   all   descendent   heirs.   The</text>
<text class="nt" x="757.6" y="758" textLength="229.4" lengthAdjust="spacingAndGlyphs">discontinuous  arrow  signifies  the  difference  of</text>
<text class="nt" x="757.6" y="770.4" textLength="229.4" lengthAdjust="spacingAndGlyphs">opinion, as in the blocking of a father of his mother, or</text>
<text class="nt" x="757.6" y="782.5" textLength="229.4" lengthAdjust="spacingAndGlyphs">blocking in special cases, as in the blocking of a sister</text>
<text class="nt" x="757.6" y="795" textLength="229.4" lengthAdjust="spacingAndGlyphs">of her paternal brother. Notice also that all those who</text>
<text class="nt" x="757.6" y="807.3" textLength="229.4" lengthAdjust="spacingAndGlyphs">have an intermediate between them and the deceased</text>
<text class="nt" x="757.6" y="819.5" textLength="229.4" lengthAdjust="spacingAndGlyphs">are blocked by that intermediate, except for the</text>
<text class="nt" x="757.6" y="832" textLength="229.4" lengthAdjust="spacingAndGlyphs">mother's siblings for they inherit with her even though</text>
<text class="nt" x="757.6" y="844" textLength="229.4" lengthAdjust="spacingAndGlyphs">she  is  the  intermediate  between  them  and  the</text>
<text class="nt" x="757.6" y="856.3" textLength="38.4" lengthAdjust="spacingAndGlyphs">deceased.</text>
</g>

<!-- stages of inheritance -->
<g id="stages">
<rect class="bx" x="117.6" y="1090" width="303.8" height="296.4" rx="24"/>
<rect class="bx" x="227" y="1061" width="91" height="28" rx="5"/>
<text class="tab" x="274.8" y="1072.5" font-size="9" textLength="44.5" lengthAdjust="spacingAndGlyphs">Stages of</text>
<text class="tab" x="275.2" y="1086" font-size="9" textLength="55.5" lengthAdjust="spacingAndGlyphs">Inheritance</text>
<text class="st" x="130.4" y="1116.2" textLength="263.2" lengthAdjust="spacingAndGlyphs">When the amount of inheritance is determined, after</text>
<text class="st" x="130.4" y="1131.4" textLength="271.6" lengthAdjust="spacingAndGlyphs">distributing the rights due, the eligible inheritors are to</text>
<text class="st" x="130.4" y="1146.1" textLength="269.6" lengthAdjust="spacingAndGlyphs">be determined as well as the amount they will receive.</text>
<text class="st" x="130.4" y="1160.6" textLength="175" lengthAdjust="spacingAndGlyphs">The process is organized as follows:</text>
<text class="st" x="130.4" y="1174.9" textLength="187.6" lengthAdjust="spacingAndGlyphs"><tspan class="red">1-</tspan> Giving the fixed amounts (fard) first</text>
<text class="st" x="130.4" y="1189.6" textLength="248.6" lengthAdjust="spacingAndGlyphs"><tspan class="red">2-</tspan> If there is a remainder, then ta'seeb takes place.</text>
<text class="st" x="130.4" y="1204.6" textLength="265.2" lengthAdjust="spacingAndGlyphs"><tspan class="red">3-</tspan> If there are no remaining people for ta'seeb to take</text>
<text class="st" x="130.4" y="1219.4" textLength="271.1" lengthAdjust="spacingAndGlyphs">place, the remainder is returned to the fixed inheritors</text>
<text class="st" x="130.4" y="1234.1" textLength="285" lengthAdjust="spacingAndGlyphs">according to their defined amounts excluding the spouses</text>
<text class="st" x="130.4" y="1248.7" textLength="252.9" lengthAdjust="spacingAndGlyphs">as it is not returned to them except at a later stage.</text>
<text class="st" x="130.4" y="1262.9" textLength="285" lengthAdjust="spacingAndGlyphs"><tspan class="red">4-</tspan> If no preliminary inheritors nor ta'seeb is present, then</text>
<text class="st" x="130.4" y="1278" textLength="274.6" lengthAdjust="spacingAndGlyphs">it transfers to kinship, such as maternal uncles, paternal</text>
<text class="st" x="130.4" y="1292.9" textLength="256.6" lengthAdjust="spacingAndGlyphs">aunts and others. Each one is given the status of the</text>
<text class="st" x="130.4" y="1307.4" textLength="267.6" lengthAdjust="spacingAndGlyphs">intermediate between them and the deceased. So the</text>
<text class="st" x="130.4" y="1322.2" textLength="281" lengthAdjust="spacingAndGlyphs">maternal uncle takes the status of the mother, taking into</text>
<text class="st" x="130.4" y="1336.4" textLength="256.6" lengthAdjust="spacingAndGlyphs">consideration the rulings of full and partial blocking.</text>
<text class="st" x="130.4" y="1351.2" textLength="281" lengthAdjust="spacingAndGlyphs"><tspan class="red">5-</tspan> Remainder goes to either spouse, if none of the above</text>
<text class="st" x="130.4" y="1365.7" textLength="58.2" lengthAdjust="spacingAndGlyphs">are present.</text>
</g>

<!-- types of inheritance -->
<g id="types">
<rect class="bx" x="659" y="1246" width="328" height="240" rx="28"/>
<rect class="bx" x="782" y="1216.6" width="80.6" height="29.4" rx="5"/>
<text class="tab" x="823" y="1228.5" font-size="9" textLength="40" lengthAdjust="spacingAndGlyphs">Types of</text>
<text class="tab" x="823.5" y="1242" font-size="9" textLength="56" lengthAdjust="spacingAndGlyphs">Inheritance</text>
<text class="ty" x="667.5" y="1266" textLength="302" lengthAdjust="spacingAndGlyphs">Inheritance occurs either by a fixed amount (fard) or</text>
<text class="ty" x="667.5" y="1283.5" textLength="283.5" lengthAdjust="spacingAndGlyphs">unfixed (ta'seeb). It is possible to join between the</text>
<text class="ty" x="667.5" y="1300.5" textLength="276" lengthAdjust="spacingAndGlyphs">two but does not always occur.  One can also be</text>
<text class="ty" x="667.5" y="1319" textLength="265.5" lengthAdjust="spacingAndGlyphs">blocked completely from inheriting. The letter</text>
<text x="942" y="1320" font-family="Lato,'Open Sans',sans-serif" font-weight="bold" font-size="15" fill="#2e6db4" text-anchor="middle">T</text>
<text class="ty" x="667.5" y="1336.5" textLength="251.5" lengthAdjust="spacingAndGlyphs">signifies ta'seeb and it is of three types:</text>
<text class="ty" x="667.5" y="1353.5" textLength="282.5" lengthAdjust="spacingAndGlyphs"><tspan class="red">1-</tspan> <tspan class="blu">Ta'seeb - by self-</tspan>: One inherits all the money if</text>
<text class="ty" x="667.5" y="1371" textLength="283.5" lengthAdjust="spacingAndGlyphs">they are isolated,  or the remainder after all fard is</text>
<text class="ty" x="667.5" y="1388.5" textLength="67.7" lengthAdjust="spacingAndGlyphs">distributed.</text>
<text class="ty" x="667.5" y="1405.5" textLength="303.2" lengthAdjust="spacingAndGlyphs"><tspan class="red">2-</tspan> <tspan class="blu">Ta'seeb -by others-</tspan>: The brother causes ta'seeb to</text>
<text class="ty" x="667.5" y="1422" textLength="293.5" lengthAdjust="spacingAndGlyphs">his sister, so both inherit, but male receives double</text>
<text class="ty" x="667.5" y="1439.5" textLength="64.5" lengthAdjust="spacingAndGlyphs">the female.</text>
<text class="ty" x="667.5" y="1457" textLength="308" lengthAdjust="spacingAndGlyphs"><tspan class="red">3-</tspan> <tspan class="blu">Ta'seeb - with others-</tspan>: Sisters take remainder after</text>
<text class="ty" x="667.5" y="1473.5" textLength="271.5" lengthAdjust="spacingAndGlyphs">daughters or son's daughters receive their fard.</text>
</g>

<!-- credits -->
<g id="credits">
<text class="cr" x="135" y="1467" textLength="107" lengthAdjust="spacingAndGlyphs">Prepared &amp; designed by</text>
<text class="cr" x="135" y="1480.5" textLength="84" lengthAdjust="spacingAndGlyphs">Dr. Abdelkader Djafer</text>
<text class="cr" x="135" y="1493" textLength="141.6" lengthAdjust="spacingAndGlyphs">Email:abdelkader.dja@gmail.com</text>
<text class="cr" x="135" y="1506" textLength="60" lengthAdjust="spacingAndGlyphs">Translated by</text>
<text class="cr" x="135" y="1520" textLength="86" lengthAdjust="spacingAndGlyphs" text-decoration="underline">tuwaylibah@yahoo.ca</text>
</g>
</g>
</svg>
